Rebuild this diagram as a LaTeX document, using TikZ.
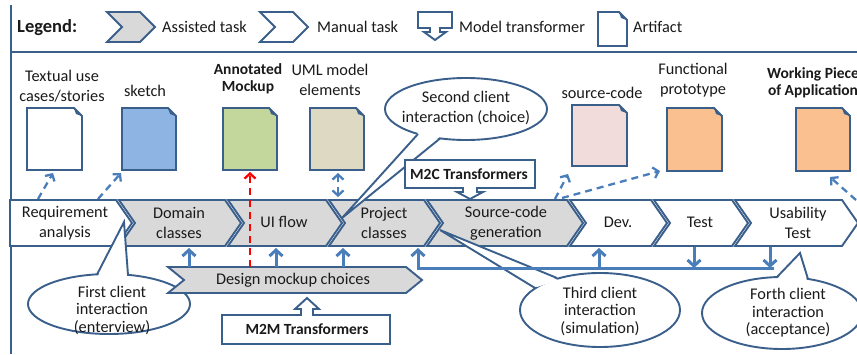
\documentclass[tikz,border=0pt]{standalone}
\usepackage{fontspec}
\setmainfont{Carlito}
\usetikzlibrary{arrows.meta}
\definecolor{bcol}{HTML}{3A5F8B}
\definecolor{acol}{HTML}{4A7EBB}
\definecolor{gfill}{HTML}{D9D9D9}
\definecolor{skfill}{HTML}{8EB4E3}
\definecolor{mkfill}{HTML}{C3D69B}
\definecolor{umfill}{HTML}{DDD9C3}
\definecolor{scfill}{HTML}{F2DCDB}
\definecolor{orfill}{HTML}{FAC090}
\definecolor{tcol}{HTML}{1A1A1A}
\newcommand\mychev[5][]{\path[shp,#1] (#2,#4) -- (#3,#4) -- ({#3+16},{(#4+#5)/2}) -- (#3,#5) -- (#2,#5) -- ({#2+16},{(#4+#5)/2}) -- cycle;}
\newcommand\mydoc[5]{\path[shp,fill=#5] (#1,#2) -- ({#3-8},#2) -- (#3,{#2+8}) -- (#3,#4) -- (#1,#4) -- cycle;
  \fill[bcol] ({#3-8},#2) -- (#3,{#2+8}) -- ({#3-6},{#2+6}) -- cycle;}
\begin{document}
\begin{tikzpicture}[x=1pt,y=-1pt,
  shp/.style={draw=bcol, line width=1.9pt, line join=miter},
  txt/.style={font=\fontsize{16.3}{19.5}\selectfont, align=center, inner sep=0pt, text=tcol},
  ctxt/.style={font=\fontsize{16.3}{17.5}\selectfont, align=center, inner sep=0pt, text=tcol},
  btxt/.style={font=\fontsize{15.5}{16.5}\selectfont\bfseries, align=center, inner sep=0pt, text=tcol},
  solidarrow/.style={draw=acol, line width=3pt, -{Straight Barb[length=6pt,width=13pt]}},
  dasharrow/.style={draw=acol, line width=2.3pt, dash pattern=on 7pt off 5pt, -{Straight Barb[length=5pt,width=11pt]}},
  reddash/.style={draw=red, line width=2.3pt, dash pattern=on 7pt off 5pt, -{Straight Barb[length=5pt,width=11pt]}},
]
\clip (0,0) rectangle (857,354);
\fill[white] (0,0) rectangle (857,354);
% frame
\draw[bcol, line width=2pt] (11,5) -- (11,354);
\draw[bcol, line width=2pt] (11,52) -- (857,52);
% legend
\node[font=\fontsize{18.5}{20}\selectfont\bfseries, anchor=west, inner sep=0pt, text=tcol] (leg) at (17,28) {Legend:};
\path[shp, fill=gfill] (107,12) -- (140,12) -- (155,27) -- (140,42) -- (107,42) -- (122,27) -- cycle;
\node[txt, anchor=west] (lega) at (162,27) {Assisted task};
\path[shp, fill=white] (260,12) -- (293,12) -- (308,27) -- (293,42) -- (260,42) -- (275,27) -- cycle;
\node[txt, anchor=west] (legm) at (317,27) {Manual task};
\path[shp, fill=white] (418,12) -- (452,12) -- (452,28) -- (440,28) -- (440,32) -- (446,32) -- (435,40) -- (424,32) -- (430,32) -- (430,28) -- (418,28) -- cycle;
\node[txt, anchor=west] (legt) at (459,27) {Model transformer};
\mydoc{598}{12}{627}{46}{white}
\node[txt, anchor=west] (legd) at (633,27) {Artifact};
% artifacts
\mydoc{27}{108}{82}{170}{white}
\mydoc{122}{108}{176}{170}{skfill}
\mydoc{223}{108}{277}{170}{mkfill}
\mydoc{310}{108}{364}{170}{umfill}
\mydoc{572}{105}{627}{166}{scfill}
\mydoc{667}{108}{722}{171}{orfill}
\mydoc{796}{108}{850}{171}{orfill}
\node[txt] (l1) at (62,86) {Textual use\\cases/stories};
\node[txt] (l2) at (145,91) {sketch};
\node[btxt] (l3) at (248,79) {Annotated\\Mockup};
\node[txt] (l4) at (330,80) {UML model\\elements};
\node[txt] (l5) at (602,93) {source-code};
\node[txt] (l6) at (693,80) {Functional\\prototype};
\node[btxt] (l7) at (813,83) {Working Piece\\of Application};
% connector coordinates
\coordinate (r1) at (38,199); \coordinate (d1) at (53,173);
\coordinate (r2) at (98,199); \coordinate (d2) at (121,173);
\coordinate (s1) at (555,199); \coordinate (d5) at (568,174);
\coordinate (s2) at (562,198); \coordinate (d6) at (660,171);
\coordinate (u1) at (856,200); \coordinate (d7) at (830,177);
\coordinate (p1) at (338,197); \coordinate (d4) at (338,173);
\draw[dasharrow] (r1) -- (d1);
\draw[dasharrow] (r2) -- (d2);
\draw[dasharrow] (s1) -- (d5);
\draw[dasharrow] (s2) -- (d6);
\draw[dasharrow] (u1) -- (d7);
\draw[dasharrow, {Straight Barb[length=5pt,width=11pt]}-{Straight Barb[length=5pt,width=11pt]}] (p1) -- (d4);
% main row
\path[shp, fill=white] (10,200) -- (116,200) -- (132,223) -- (116,246) -- (10,246) -- cycle;
\mychev[fill=gfill]{119}{225}{200}{246}
\mychev[fill=gfill]{228}{326}{200}{246}
\mychev[fill=gfill]{329}{424}{200}{246}
\mychev[fill=gfill]{427}{567}{200}{246}
\mychev[fill=white]{570}{651}{200}{246}
\mychev[fill=white]{654}{732}{200}{246}
\mychev[fill=white]{735}{842}{200}{246}
\node[txt] (req) at (65,223) {Requirement\\analysis};
\node[txt] (dom) at (179,223) {Domain\\classes};
\node[txt] (uif) at (284,222) {UI flow};
\node[txt] (prj) at (384,223) {Project\\classes};
\node[txt] (scg) at (506,223) {Source-code\\generation};
\node[txt] (dev) at (618,222) {Dev.};
\node[txt] (tst) at (700,222) {Test};
\node[txt] (ust) at (798,223) {Usability\\Test};
% callouts
\path[shp, fill=white] (109,304) ellipse [x radius=81pt, y radius=30pt];
\fill[white] (98,276) -- (124,222) -- (127,277) -- cycle;
\draw[bcol, line width=1.9pt, line join=miter] (97,274.5) -- (124,222) -- (128,275);
\node[ctxt] (c1) at (112,310) {First client\\interaction\\(enterview)};
\path[shp, fill=white] (466,109) ellipse [x radius=81pt, y radius=31pt];
\fill[white] (419,132) -- (342,218) -- (440,136.5) -- cycle;
\draw[bcol, line width=1.9pt, line join=miter] (418,134) -- (342,218) -- (440,138.5);
\node[txt] (c2) at (466,108) {Second client\\interaction (choice)};
\path[shp, fill=white] (600,310) ellipse [x radius=80pt, y radius=37pt];
\fill[white] (537,287) -- (440,230) -- (558,280) -- cycle;
\draw[bcol, line width=1.9pt, line join=miter] (535,288) -- (440,230) -- (557,278);
\node[ctxt] (c3) at (600,311) {Third client\\interaction\\(simulation)};
\path[shp, fill=white] (782,313) ellipse [x radius=80pt, y radius=36pt];
\fill[white] (777,279) -- (800,253) -- (807,281) -- cycle;
\draw[bcol, line width=1.9pt, line join=miter] (777,277) -- (800,253) -- (808,279);
\node[ctxt] (c4) at (788,313) {Forth client\\interaction\\(acceptance)};
% transformers
\path[shp, fill=white] (405,160) -- (535,160) -- (535,188) -- (477,188) -- (477,192) -- (483,192) -- (470,199) -- (457,192) -- (463,192) -- (463,188) -- (405,188) -- cycle;
\node[btxt, font=\fontsize{15.5}{17}\selectfont\bfseries] (m2c) at (469,174) {M2C Transformers};
\mychev[fill=gfill]{168}{406}{267}{293}
\node[txt] (dmc) at (293,280) {Design mockup choices};
\path[shp, fill=white] (222,315) -- (301,315) -- (301,309) -- (295,309) -- (307,298) -- (319,309) -- (313,309) -- (313,315) -- (390,315) -- (390,344) -- (222,344) -- cycle;
\node[btxt, font=\fontsize{15.5}{17}\selectfont\bfseries] (m2m) at (307,329) {M2M Transformers};
% solid arrows
\coordinate (a1) at (189,267); \coordinate (b1) at (189,248);
\coordinate (a2) at (276,267); \coordinate (b2) at (276,248);
\coordinate (a3) at (343,267); \coordinate (b3) at (343,248);
\draw[solidarrow] (a1) -- (b1);
\draw[solidarrow] (a2) -- (b2);
\draw[solidarrow] (a3) -- (b3);
\coordinate (t1) at (694,247); \coordinate (t2) at (694,268);
\coordinate (v1) at (770,247); \coordinate (v2) at (770,268);
\coordinate (fbR) at (774,268); \coordinate (fbD) at (599,268); \coordinate (fbDt) at (599,248);
\coordinate (fbL) at (418,268); \coordinate (fbLt) at (418,248);
\draw[solidarrow] (t1) -- (t2);
\draw[solidarrow] (v1) -- (v2);
\draw[solidarrow] (fbR) -- (fbD) -- (fbDt);
\draw[solidarrow] (fbD) -- (fbL) -- (fbLt);
% red dashed
\coordinate (rd1) at (250,267); \coordinate (rd2) at (250,172);
\draw[reddash] (rd1) -- (rd2);
\end{tikzpicture}
\end{document}
